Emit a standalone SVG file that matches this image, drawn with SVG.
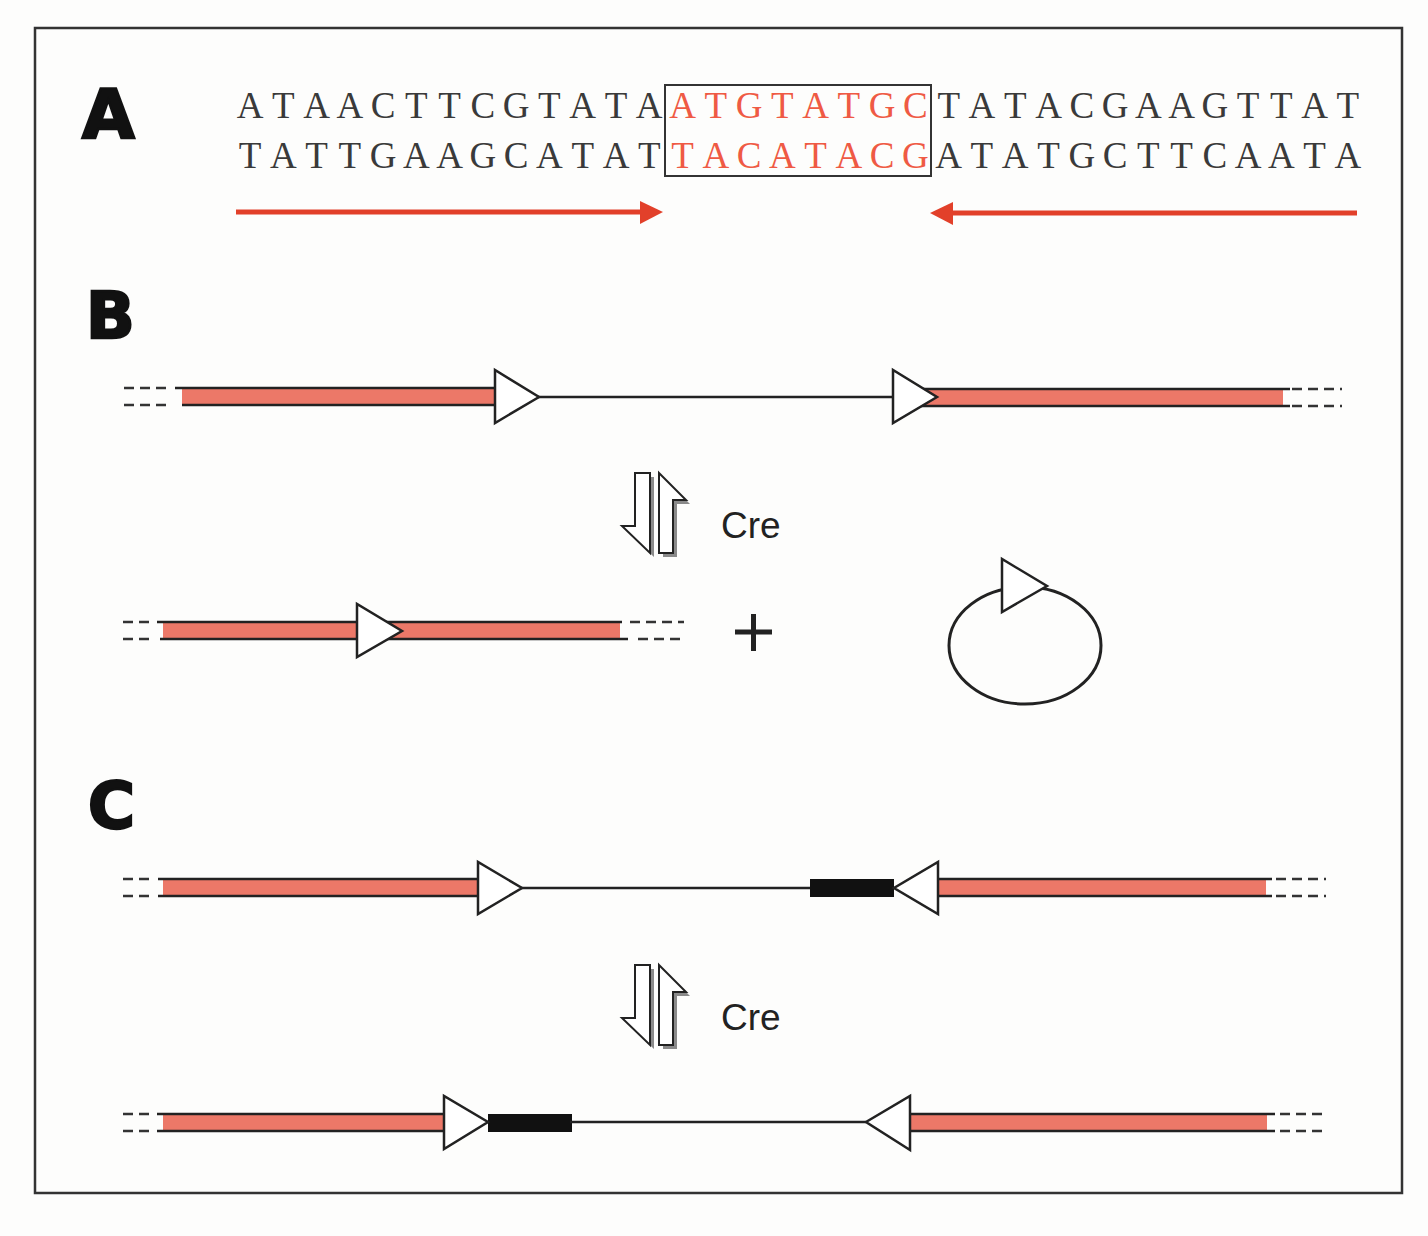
<svg xmlns="http://www.w3.org/2000/svg" width="1428" height="1236" viewBox="0 0 1428 1236">
<defs>
<style>
.bg{fill:#fdfdfc}
.frame{fill:none;stroke:#333;stroke-width:2.5}
.panel{font-family:"DejaVu Sans","Liberation Sans",sans-serif;font-weight:bold;fill:#111;stroke:#111;stroke-width:2.5}
.seq{font-family:"Liberation Serif","Times New Roman",serif;font-size:37px;fill:#3a3a3a;text-anchor:middle}
.seqr{fill:#ef5a44}
.box{fill:none;stroke:#333;stroke-width:2}
.red{stroke:#e2402a;stroke-width:5;fill:none}
.redh{fill:#e2402a}
.pink{fill:#ec7868}
.ln{stroke:#222;stroke-width:2.5;fill:none}
.dash{stroke:#333;stroke-width:2.5;stroke-dasharray:10 6;fill:none}
.tri{fill:#fff;stroke:#222;stroke-width:2.5;stroke-linejoin:miter}
.blk{fill:#111}
.cre{font-family:"Liberation Sans",Arial,sans-serif;font-size:37px;fill:#222}
.arw{fill:#fff;stroke:#222;stroke-width:2}
.shd{fill:#8a8a8a}
</style>
</defs>
<rect class="bg" x="0" y="0" width="1428" height="1236"/>
<rect class="frame" x="35" y="28" width="1367" height="1165"/>

<g id="label-A"><text class="panel" x="82" y="138" font-size="68">A</text></g>
<g id="label-B"><text class="panel" x="86" y="338" font-size="64">B</text></g>
<g id="label-C"><text class="panel" x="88" y="828" font-size="64">C</text></g>

<g id="sequence">
<text class="seq" y="118"><tspan x="250 283.3 316.5 349.8 383.1 416.4 449.6 482.9 516.2 549.4 582.7 616 649.2">ATAACTTCGTATA</tspan><tspan class="seqr" x="682.5 715.8 749.1 782.3 815.6 848.9 882.1 915.4">ATGTATGC</tspan><tspan x="948.7 981.9 1015.2 1048.5 1081.8 1115 1148.3 1181.6 1214.8 1248.1 1281.4 1314.6 1347.9">TATACGAAGTTAT</tspan></text>
<text class="seq" y="168"><tspan x="250 283.3 316.5 349.8 383.1 416.4 449.6 482.9 516.2 549.4 582.7 616 649.2">TATTGAAGCATAT</tspan><tspan class="seqr" x="682.5 715.8 749.1 782.3 815.6 848.9 882.1 915.4">TACATACG</tspan><tspan x="948.7 981.9 1015.2 1048.5 1081.8 1115 1148.3 1181.6 1214.8 1248.1 1281.4 1314.6 1347.9">ATATGCTTCAATA</tspan></text>
<rect class="box" x="665" y="85" width="266" height="91"/>
</g>

<g id="connectors">
<line class="red" x1="236" y1="212" x2="642" y2="212"/>
<polygon class="redh" points="640,201 663,212 640,224"/>
<line class="red" x1="1357" y1="213" x2="951" y2="213"/>
<polygon class="redh" points="953,202 930,213 953,225"/>
<g id="cre-arrows-B">
<polygon class="shd" points="639,477 654,477 654,557 626,530 639,530"/>
<polygon class="arw" points="635,473 650,473 650,553 622,526 635,526"/>
<polygon class="shd" points="663,477 690,504 677,504 677,557 663,557"/>
<polygon class="arw" points="659,473 686,500 673,500 673,553 659,553"/>
</g>
<g id="cre-arrows-C" transform="translate(0,492)">
<polygon class="shd" points="639,477 654,477 654,557 626,530 639,530"/>
<polygon class="arw" points="635,473 650,473 650,553 622,526 635,526"/>
<polygon class="shd" points="663,477 690,504 677,504 677,557 663,557"/>
<polygon class="arw" points="659,473 686,500 673,500 673,553 659,553"/>
</g>
</g>

<g id="cre-B"><text class="cre" x="721" y="538">Cre</text></g>
<g id="cre-C"><text class="cre" x="721" y="1030">Cre</text></g>

<g id="B-substrate">
<line class="dash" x1="124" y1="388" x2="172" y2="388"/>
<line class="dash" x1="124" y1="405" x2="172" y2="405"/>
<rect class="pink" x="182" y="389" width="313" height="15"/>
<line class="ln" x1="175" y1="388" x2="495" y2="388"/>
<line class="ln" x1="182" y1="405" x2="495" y2="405"/>
<line class="ln" x1="538" y1="397" x2="893" y2="397"/>
<rect class="pink" x="920" y="390" width="363" height="15"/>
<line class="ln" x1="920" y1="389" x2="1290" y2="389"/>
<line class="ln" x1="920" y1="406" x2="1290" y2="406"/>
<line class="dash" x1="1292" y1="389" x2="1342" y2="389"/>
<line class="dash" x1="1292" y1="406" x2="1342" y2="406"/>
<polygon class="tri" points="495,370 495,423 539,397"/>
<polygon class="tri" points="893,370 893,423 937,397"/>
</g>

<g id="B-product">
<line class="dash" x1="123" y1="622" x2="155" y2="622"/>
<line class="dash" x1="123" y1="639" x2="155" y2="639"/>
<rect class="pink" x="163" y="623" width="457" height="15"/>
<line class="ln" x1="157" y1="622" x2="622" y2="622"/>
<line class="ln" x1="160" y1="639" x2="628" y2="639"/>
<line class="dash" x1="630" y1="622" x2="684" y2="622"/>
<line class="dash" x1="638" y1="639" x2="684" y2="639"/>
<polygon class="tri" points="357,604 357,657 402,631"/>
</g>

<g id="plus">
<line class="ln" x1="735" y1="632" x2="772" y2="632" style="stroke-width:5"/>
<line class="ln" x1="753.5" y1="614" x2="753.5" y2="651" style="stroke-width:5"/>
</g>

<g id="circle">
<ellipse cx="1025" cy="645.5" rx="76" ry="58.5" fill="none" stroke="#222" stroke-width="3"/>
<polygon class="tri" points="1002,559 1002,612 1047,586"/>
</g>

<g id="C-substrate">
<line class="dash" x1="123" y1="879" x2="155" y2="879"/>
<line class="dash" x1="123" y1="896" x2="155" y2="896"/>
<rect class="pink" x="163" y="880" width="315" height="15"/>
<line class="ln" x1="158" y1="879" x2="478" y2="879"/>
<line class="ln" x1="158" y1="896" x2="478" y2="896"/>
<line class="ln" x1="521" y1="888" x2="812" y2="888"/>
<rect class="blk" x="810" y="879" width="84" height="18"/>
<rect class="pink" x="938" y="880" width="328" height="15"/>
<line class="ln" x1="938" y1="879" x2="1272" y2="879"/>
<line class="ln" x1="938" y1="896" x2="1272" y2="896"/>
<line class="dash" x1="1276" y1="879" x2="1326" y2="879"/>
<line class="dash" x1="1276" y1="896" x2="1326" y2="896"/>
<polygon class="tri" points="478,862 478,914 522,888"/>
<polygon class="tri" points="938,862 938,914 894,888"/>
</g>

<g id="C-product">
<line class="dash" x1="123" y1="1114" x2="155" y2="1114"/>
<line class="dash" x1="123" y1="1131" x2="155" y2="1131"/>
<rect class="pink" x="163" y="1115" width="281" height="15"/>
<line class="ln" x1="157" y1="1114" x2="444" y2="1114"/>
<line class="ln" x1="157" y1="1131" x2="444" y2="1131"/>
<rect class="blk" x="488" y="1114" width="84" height="18"/>
<line class="ln" x1="570" y1="1122" x2="866" y2="1122"/>
<rect class="pink" x="910" y="1115" width="357" height="15"/>
<line class="ln" x1="910" y1="1114" x2="1275" y2="1114"/>
<line class="ln" x1="910" y1="1131" x2="1275" y2="1131"/>
<line class="dash" x1="1280" y1="1114" x2="1326" y2="1114"/>
<line class="dash" x1="1280" y1="1131" x2="1326" y2="1131"/>
<polygon class="tri" points="444,1096 444,1149 488,1122"/>
<polygon class="tri" points="910,1096 910,1150 866,1122"/>
</g>
</svg>
